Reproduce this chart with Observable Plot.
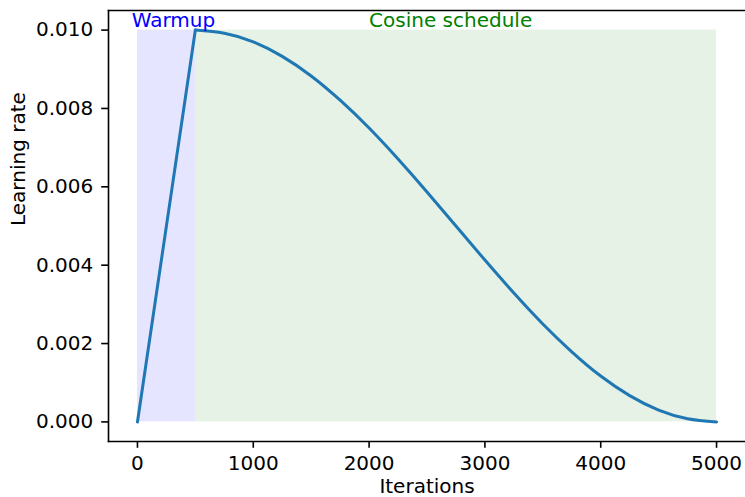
<!DOCTYPE html>
<html>
<head>
<meta charset="utf-8">
<script src="https://cdn.jsdelivr.net/npm/d3@7"></script>
<script src="https://cdn.jsdelivr.net/npm/@observablehq/plot@0.6"></script>
<style>
  html, body { margin: 0; padding: 0; background: #fff; }
  svg { display: block; }
</style>
</head>
<body>
<div id="chart"></div>
<script>
// Learning-rate schedule
const warmupIters = [0, 500];
const warmupLR = [0, 0.010];
const cosineIters = [500, 750, 1000, 1250, 1500, 1750, 2000, 2250, 2500, 2750, 3000, 3250, 3500, 3750, 4000, 4250, 4500, 4750, 5000];
const cosineLR = [0.0100, 0.00992, 0.00970, 0.00933, 0.00883, 0.00821, 0.00750, 0.00671, 0.00587, 0.00500, 0.00413, 0.00329, 0.00250, 0.00179, 0.00117, 0.00067, 0.00030, 0.00008, 0.0000];

// Shaded phases
const phaseNames = ["Warmup", "Cosine schedule"];
const phaseStart = [0, 500];
const phaseEnd = [500, 5000];
const phaseTop = [0.010, 0.010];
const phaseLabelX = [-50, 2000];

// Ticks
const xTicks = [0, 1000, 2000, 3000, 4000, 5000];
const yTicks = [0, 0.002, 0.004, 0.006, 0.008, 0.010];

const lineData = [
  ...warmupIters.map((x, i) => ({x, y: warmupLR[i], phase: "Warmup"})),
  ...cosineIters.map((x, i) => ({x, y: cosineLR[i], phase: "Cosine schedule"}))
];
const phases = phaseNames.map((name, i) => ({name, x1: phaseStart[i], x2: phaseEnd[i], y1: 0, y2: phaseTop[i], lx: phaseLabelX[i]}));
const phaseFill = {"Warmup": "blue", "Cosine schedule": "green"};
const labelColor = {"Warmup": "#0000ff", "Cosine schedule": "#008000"};

const FS = 20;

const chart = Plot.plot({
  width: 745,
  height: 497,
  marginLeft: 108,
  marginRight: 0,
  marginTop: 10,
  marginBottom: 56,
  style: {fontFamily: "DejaVu Sans", fontSize: FS + "px", color: "black", background: "white"},
  x: {domain: [-250, 5250]},
  y: {domain: [-0.0005, 0.0105]},
  marks: [
    Plot.rect(phases, {x1: "x1", x2: "x2", y1: "y1", y2: "y2", fill: d => phaseFill[d.name], fillOpacity: 0.1}),
    Plot.line(lineData, {x: "x", y: "y", z: "phase", curve: "natural", stroke: "#1f77b4", strokeWidth: 3}),
    Plot.text(phases, {x: "lx", y: "y2", text: "name", fill: d => labelColor[d.name], textAnchor: "start", lineAnchor: "bottom", dy: -3.5, fontSize: FS}),
    Plot.frame({anchor: "left", stroke: "black", strokeWidth: 1.6}),
    Plot.frame({anchor: "bottom", stroke: "black", strokeWidth: 1.6}),
    Plot.frame({anchor: "top", stroke: "black", strokeWidth: 1.6}),
    Plot.axisX({ticks: xTicks, tickFormat: d => String(d), tickSize: 6.8, tickPadding: 7.5, strokeWidth: 1.6, label: null, fontSize: FS}),
    Plot.axisY({ticks: yTicks, tickFormat: d3.format(".3f"), tickSize: 6.8, tickPadding: 8.5, strokeWidth: 1.6, label: null, fontSize: FS}),
    Plot.text(["Iterations"], {frameAnchor: "bottom", lineAnchor: "bottom", dy: 51, fontSize: FS, fill: "black"}),
    Plot.text(["Learning rate"], {frameAnchor: "left", lineAnchor: "bottom", rotate: -90, dx: -84, fontSize: FS, fill: "black"})
  ]
});
document.getElementById("chart").appendChild(chart);
</script>
</body>
</html>
